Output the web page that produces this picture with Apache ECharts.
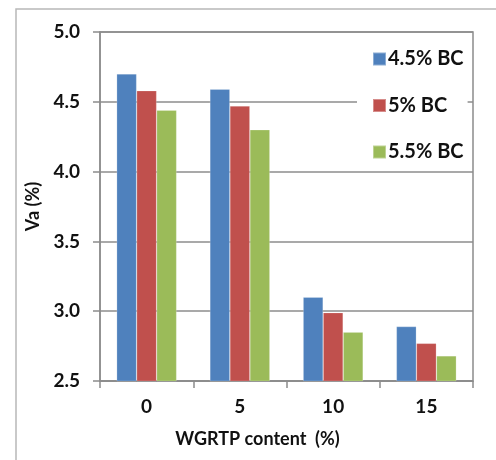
<!DOCTYPE html>
<html>
<head>
<meta charset="utf-8">
<script src="https://cdn.jsdelivr.net/npm/echarts@6/dist/echarts.min.js"></script>
<style>
html,body{margin:0;padding:0;background:#fff;}
#c{width:496px;height:460px;}
</style>
</head>
<body>
<div id="c"></div>
<script>
var categories = ['0', '5', '10', '15'];
var seriesNames = ['4.5% BC', '5% BC', '5.5% BC'];
var bc45 = [4.70, 4.59, 3.10, 2.89];
var bc50 = [4.58, 4.47, 2.99, 2.77];
var bc55 = [4.44, 4.30, 2.85, 2.68];
var yTicks = [2.5, 3.0, 3.5, 4.0, 4.5, 5.0];
var colors = ['#4F81BD', '#C0504D', '#9BBB59'];

var FONT = 'Lato';
var TXT = '#111111';
var chart = echarts.init(document.getElementById('c'), null, {renderer: 'canvas'});
var values = [bc45, bc50, bc55];
var series = values.map(function (v, i) {
  return {
    name: seriesNames[i],
    type: 'bar',
    data: v,
    barWidth: 20,
    barGap: '0%',
    itemStyle: {color: colors[i], borderColor: 'rgba(255,255,255,0.35)', borderWidth: 0.6},
    z: 2
  };
});
chart.setOption({
  animation: false,
  backgroundColor: '#ffffff',
  graphic: [{
    type: 'rect',
    shape: {x: 16, y: 9, width: 600, height: 600},
    style: {fill: 'none', stroke: '#b8b8b8', lineWidth: 1.5},
    z: 0
  }],
  grid: {
    left: 100, right: 23, top: 32, bottom: 79,
    show: true, borderColor: '#8c8c8c', borderWidth: 1.5, backgroundColor: 'transparent'
  },
  legend: {
    orient: 'vertical',
    left: 357, top: 41,
    padding: [8, 4, 8, 15],
    backgroundColor: '#ffffff',
    itemWidth: 13, itemHeight: 13,
    itemGap: 26.5,
    icon: 'rect',
    data: seriesNames,
    textStyle: {fontFamily: FONT, fontWeight: 'bold', fontSize: 20, color: TXT, padding: [0, 0, 0, -3]},
    z: 5
  },
  xAxis: {
    type: 'category',
    data: categories,
    name: 'WGRTP content  (%)',
    nameLocation: 'middle',
    nameGap: 49,
    nameTextStyle: {fontFamily: FONT, fontWeight: 'bold', fontSize: 18, color: TXT, padding: [0, 58, 0, 0]},
    axisLine: {lineStyle: {color: '#8c8c8c', width: 1.5}},
    axisTick: {show: true, length: 7, lineStyle: {color: '#8c8c8c', width: 1.5}},
    axisLabel: {fontFamily: FONT, fontWeight: 'bold', fontSize: 19, color: TXT, margin: 16}
  },
  yAxis: {
    type: 'value',
    min: 2.5, max: 5.0, interval: 0.5,
    name: 'Va (%)',
    nameLocation: 'middle',
    nameGap: 58,
    nameTextStyle: {fontFamily: FONT, fontWeight: 'bold', fontSize: 18, color: TXT},
    axisLine: {show: true, lineStyle: {color: '#8c8c8c', width: 1.5}},
    axisTick: {show: true, length: 7, lineStyle: {color: '#8c8c8c', width: 1.5}},
    splitLine: {show: true, lineStyle: {color: '#8c8c8c', width: 1.5}},
    axisLabel: {
      fontFamily: FONT, fontWeight: 'bold', fontSize: 19, color: TXT, margin: 20,
      formatter: function (v) { return yTicks.indexOf(+v.toFixed(1)) >= 0 ? v.toFixed(1) : ''; }
    }
  },
  series: series
});
</script>
</body>
</html>
